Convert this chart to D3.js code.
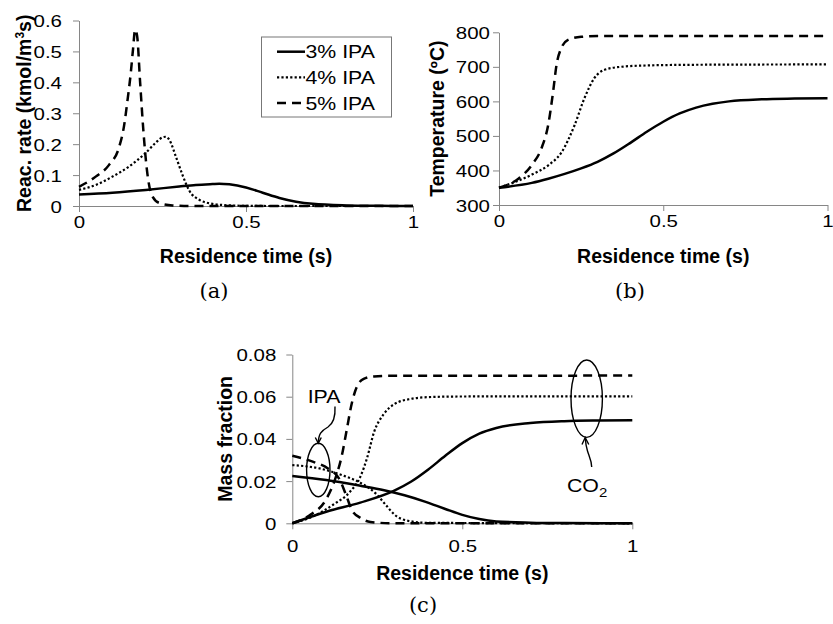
<!DOCTYPE html>
<html>
<head>
<meta charset="utf-8">
<script src="https://cdn.jsdelivr.net/npm/d3@7"></script>
<style>
  body { margin: 0; background: #fff; }
  svg { display: block; }
</style>
</head>
<body>
<script>
// ---- Series labels ----
const seriesNames = ["3% IPA", "4% IPA", "5% IPA"];

// ---- (a) Reaction rate (kmol/m3 s) vs residence time (s) ----
const rateT3 = [0, 0.1, 0.2, 0.3, 0.35, 0.4, 0.42, 0.45, 0.5, 0.55, 0.6, 0.65, 0.7, 0.8, 0.9, 1.0];
const rate3  = [0.037, 0.043, 0.052, 0.063, 0.068, 0.071, 0.072, 0.070, 0.060, 0.043, 0.026, 0.014, 0.007, 0.002, 0.0005, 0];
const rateT4 = [0, 0.05, 0.1, 0.15, 0.2, 0.23, 0.25, 0.26, 0.27, 0.29, 0.31, 0.33, 0.36, 0.4, 0.45, 0.5, 0.6, 1.0];
const rate4  = [0.052, 0.068, 0.095, 0.128, 0.172, 0.205, 0.222, 0.224, 0.215, 0.16, 0.10, 0.05, 0.02, 0.007, 0.002, 0.0005, 0, 0];
const rateT5 = [0, 0.05, 0.09, 0.12, 0.135, 0.145, 0.155, 0.162, 0.168, 0.174, 0.183, 0.193, 0.203, 0.218, 0.24, 0.28, 0.35, 1.0];
const rate5  = [0.062, 0.095, 0.133, 0.19, 0.26, 0.34, 0.43, 0.51, 0.57, 0.55, 0.40, 0.24, 0.12, 0.035, 0.01, 0.002, 0, 0];

// ---- (b) Temperature (ºC) vs residence time (s) ----
const tempT3 = [0, 0.1, 0.15, 0.2, 0.25, 0.3, 0.35, 0.4, 0.45, 0.5, 0.55, 0.6, 0.65, 0.7, 0.8, 0.9, 1.0];
const temp3  = [350, 364, 376, 390, 406, 425, 450, 480, 512, 541, 565, 582, 593, 600, 606, 608, 609];
const tempT4 = [0, 0.05, 0.1, 0.15, 0.19, 0.23, 0.26, 0.29, 0.32, 0.37, 0.45, 0.6, 1.0];
const temp4  = [350, 367, 388, 415, 452, 531, 609, 667, 691, 700, 704, 706, 707];
const tempT5 = [0, 0.03, 0.06, 0.1, 0.13, 0.15, 0.165, 0.175, 0.19, 0.21, 0.25, 0.3, 1.0];
const temp5  = [350, 360, 377, 416, 466, 533, 630, 705, 755, 778, 787, 789, 789];

// ---- (c) Mass fraction vs residence time (s) ----
const co2T3 = [0, 0.1, 0.2, 0.3, 0.35, 0.4, 0.45, 0.5, 0.55, 0.6, 0.7, 0.8, 0.9, 1.0];
const co2_3 = [0, 0.0055, 0.0098, 0.0155, 0.0198, 0.0255, 0.0320, 0.0380, 0.0425, 0.0452, 0.0475, 0.0484, 0.0487, 0.0488];
const co2T4 = [0, 0.06, 0.12, 0.17, 0.2, 0.22, 0.24, 0.27, 0.3, 0.35, 0.4, 0.5, 1.0];
const co2_4 = [0, 0.0032, 0.0088, 0.015, 0.022, 0.031, 0.043, 0.052, 0.0565, 0.0590, 0.0598, 0.0601, 0.0602];
const co2T5 = [0, 0.05, 0.1, 0.125, 0.145, 0.16, 0.175, 0.19, 0.21, 0.24, 0.3, 1.0];
const co2_5 = [0, 0.0037, 0.0115, 0.0205, 0.0316, 0.0442, 0.0569, 0.0648, 0.0684, 0.0696, 0.0699, 0.07];

const ipaT3 = [0, 0.1, 0.2, 0.27, 0.33, 0.39, 0.45, 0.5, 0.55, 0.6, 0.7, 0.8, 1.0];
const ipa3  = [0.0224, 0.0205, 0.0178, 0.0157, 0.0133, 0.0103, 0.0068, 0.0040, 0.0020, 0.0009, 0.0003, 0.0001, 0];
const ipaT4 = [0, 0.08, 0.145, 0.2, 0.245, 0.275, 0.3, 0.34, 0.4, 1.0];
const ipa4  = [0.0276, 0.026, 0.0229, 0.0192, 0.0142, 0.0087, 0.0042, 0.0012, 0.0002, 0];
const ipaT5 = [0, 0.06, 0.105, 0.14, 0.16, 0.175, 0.2, 0.23, 0.3, 1.0];
const ipa5  = [0.032, 0.0292, 0.026, 0.0205, 0.0126, 0.0063, 0.0026, 0.0006, 0, 0];

// ---- Tick values and labels ----
const timeTicks = [0, 0.5, 1];
const timeTickLabels = ["0", "0.5", "1"];
const rateTicks = [0, 0.1, 0.2, 0.3, 0.4, 0.5, 0.6];
const rateTickLabels = ["0", "0.1", "0.2", "0.3", "0.4", "0.5", "0.6"];
const tempTicks = [300, 400, 500, 600, 700, 800];
const tempTickLabels = ["300", "400", "500", "600", "700", "800"];
const massTicks = [0, 0.02, 0.04, 0.06, 0.08];
const massTickLabels = ["0", "0.02", "0.04", "0.06", "0.08"];

// ---- Styling ----
const SANS = "'Liberation Sans', Arial, Helvetica, sans-serif";
const SERIF = "'DejaVu Serif', 'Liberation Serif', serif";
const AXIS_COLOR = "#868686";
const TICK_SX = 1.22;   // tick labels are drawn slightly widened
const LEG_SX = 1.15;
const lineStyles = [
  { width: 2.5, dash: null },
  { width: 2.2, dash: "2.2,2.2" },
  { width: 2.5, dash: "9,6" }
];

const svg = d3.select("body").append("svg")
  .attr("width", 833).attr("height", 624)
  .style("font-family", SANS);

const zip = (ts, vs) => ts.map((t, i) => [t, vs[i]]);

function drawPanel(cfg) {
  const x = d3.scaleLinear().domain([0, 1]).range([cfg.left, cfg.right]);
  const y = d3.scaleLinear().domain(cfg.yDomain).range([cfg.bottom, cfg.top]);
  const g = svg.append("g");

  // x axis
  const xa = g.append("g")
    .attr("transform", `translate(0,${cfg.bottom})`)
    .call(d3.axisBottom(x).tickValues(timeTicks)
      .tickFormat((d, i) => timeTickLabels[i])
      .tickSize(6).tickSizeOuter(0));
  xa.selectAll("text")
    .attr("y", cfg.xLabelY).attr("dy", 0)
    .attr("transform", `scale(${TICK_SX},1)`);

  // y axis
  const ya = g.append("g")
    .attr("transform", `translate(${cfg.left},0)`)
    .call(d3.axisLeft(y).tickValues(cfg.yTicks)
      .tickFormat((d, i) => cfg.yTickLabels[i])
      .tickSize(6).tickSizeOuter(0));
  ya.selectAll("text")
    .attr("x", -cfg.yLabelGap / TICK_SX).attr("dy", "0.36em")
    .attr("transform", `scale(${TICK_SX},1)`);

  [xa, ya].forEach(a => {
    a.select(".domain").attr("stroke", AXIS_COLOR).attr("stroke-width", 1);
    a.selectAll(".tick line").attr("stroke", AXIS_COLOR);
    a.selectAll("text").attr("font-family", SANS).attr("font-size", 16.8).attr("fill", "#000");
  });

  // curves
  const line = d3.line()
    .x(d => x(d[0])).y(d => y(d[1]))
    .curve(d3.curveMonotoneX);
  cfg.series.forEach(s => {
    const st = lineStyles[s.style];
    g.append("path")
      .datum(s.data)
      .attr("d", line)
      .attr("fill", "none")
      .attr("stroke", "#000")
      .attr("stroke-width", st.width)
      .attr("stroke-dasharray", st.dash);
  });

  // x title
  g.append("text")
    .attr("x", (cfg.left + cfg.right) / 2).attr("y", cfg.xTitleY)
    .attr("text-anchor", "middle")
    .attr("font-weight", "bold").attr("font-size", 19.5)
    .text("Residence time (s)");

  // y title
  const yt = g.append("text")
    .attr("transform", `translate(${cfg.yTitleX},${(cfg.top + cfg.bottom) / 2}) rotate(-90)`)
    .attr("text-anchor", "middle")
    .attr("font-weight", "bold").attr("font-size", 19.5);
  cfg.yTitle(yt);

  // panel caption
  svg.append("text")
    .attr("x", cfg.capX).attr("y", cfg.capY)
    .attr("text-anchor", "middle")
    .attr("font-family", SERIF).attr("font-size", 21)
    .text(cfg.caption);

  return { x, y, g };
}

// (a) reaction rate
drawPanel({
  left: 79, right: 413, top: 20.5, bottom: 206,
  yDomain: [0, 0.6], yTicks: rateTicks, yTickLabels: rateTickLabels,
  xLabelY: 22.5, yLabelGap: 17, xTitleY: 263, yTitleX: 31,
  yTitle: t => {
    t.append("tspan").text("Reac. rate (kmol/m");
    t.append("tspan").attr("dy", -7).attr("font-size", 12).text("3");
    t.append("tspan").attr("dy", 7).text("s)");
  },
  caption: "(a)", capX: 214, capY: 298,
  series: [
    { data: zip(rateT3, rate3), style: 0 },
    { data: zip(rateT4, rate4), style: 1 },
    { data: zip(rateT5, rate5), style: 2 }
  ]
});

// legend for (a)
const leg = svg.append("g");
leg.append("rect")
  .attr("x", 261.5).attr("y", 37).attr("width", 130).attr("height", 80)
  .attr("fill", "#fff").attr("stroke", "#777").attr("stroke-width", 1);
seriesNames.forEach((name, i) => {
  const cy = 51.7 + i * 25.7;
  const st = lineStyles[i];
  leg.append("line")
    .attr("x1", 277).attr("x2", 305).attr("y1", cy).attr("y2", cy)
    .attr("stroke", "#000").attr("stroke-width", st.width)
    .attr("stroke-dasharray", st.dash);
  leg.append("text")
    .attr("transform", `translate(305.5,${cy + 6.6}) scale(${LEG_SX},1)`)
    .attr("font-size", 18.5)
    .text(name);
});

// (b) temperature
drawPanel({
  left: 499, right: 827.5, top: 32.3, bottom: 205,
  yDomain: [300, 800], yTicks: tempTicks, yTickLabels: tempTickLabels,
  xLabelY: 22.5, yLabelGap: 9, xTitleY: 263, yTitleX: 444,
  yTitle: t => t.text("Temperature (ºC)"),
  caption: "(b)", capX: 630, capY: 298,
  series: [
    { data: zip(tempT3, temp3), style: 0 },
    { data: zip(tempT4, temp4), style: 1 },
    { data: zip(tempT5, temp5), style: 2 }
  ]
});

// (c) mass fractions of IPA and CO2
drawPanel({
  left: 292.3, right: 632.3, top: 354.5, bottom: 523.3,
  yDomain: [0, 0.08], yTicks: massTicks, yTickLabels: massTickLabels,
  xLabelY: 29, yLabelGap: 16, xTitleY: 580, yTitleX: 231.5,
  yTitle: t => t.text("Mass fraction"),
  caption: "(c)", capX: 423, capY: 612,
  series: [
    { data: zip(co2T3, co2_3), style: 0 },
    { data: zip(co2T4, co2_4), style: 1 },
    { data: zip(co2T5, co2_5), style: 2 },
    { data: zip(ipaT3, ipa3), style: 0 },
    { data: zip(ipaT4, ipa4), style: 1 },
    { data: zip(ipaT5, ipa5), style: 2 }
  ]
});

// species call-outs in (c)
const ann = svg.append("g").attr("fill", "none").attr("stroke", "#000").attr("stroke-width", 1.4);
ann.append("ellipse").attr("cx", 318.3).attr("cy", 470).attr("rx", 11.7).attr("ry", 26.7);
ann.append("ellipse").attr("cx", 586.7).attr("cy", 398.7).attr("rx", 15.7).attr("ry", 38.7);
// arrow from the IPA label down to its ellipse
ann.append("path").attr("d", "M335,406.5 C335.5,416 334,423 328,427 C321,431 318.5,434 318.3,443");
ann.append("path").attr("d", "M315.3,437.5 L318.3,443.3 L321.3,437.5");
// arrow from the CO2 label up to its ellipse
ann.append("path").attr("d", "M591.7,467 C591.5,460 589,456 587.5,451 C586,446 585.5,442 585.2,437.5");
ann.append("path").attr("d", "M582,444.5 L585.2,437.5 L588.8,444.5");

svg.append("text")
  .attr("transform", `translate(324,403) scale(${LEG_SX},1)`)
  .attr("text-anchor", "middle").attr("font-size", 18.5)
  .text("IPA");
const co2 = svg.append("text")
  .attr("transform", `translate(567,491.5) scale(${LEG_SX},1)`)
  .attr("font-size", 18.5);
co2.append("tspan").text("CO");
co2.append("tspan").attr("dy", 5).attr("font-size", 13).text("2");
</script>
</body>
</html>
